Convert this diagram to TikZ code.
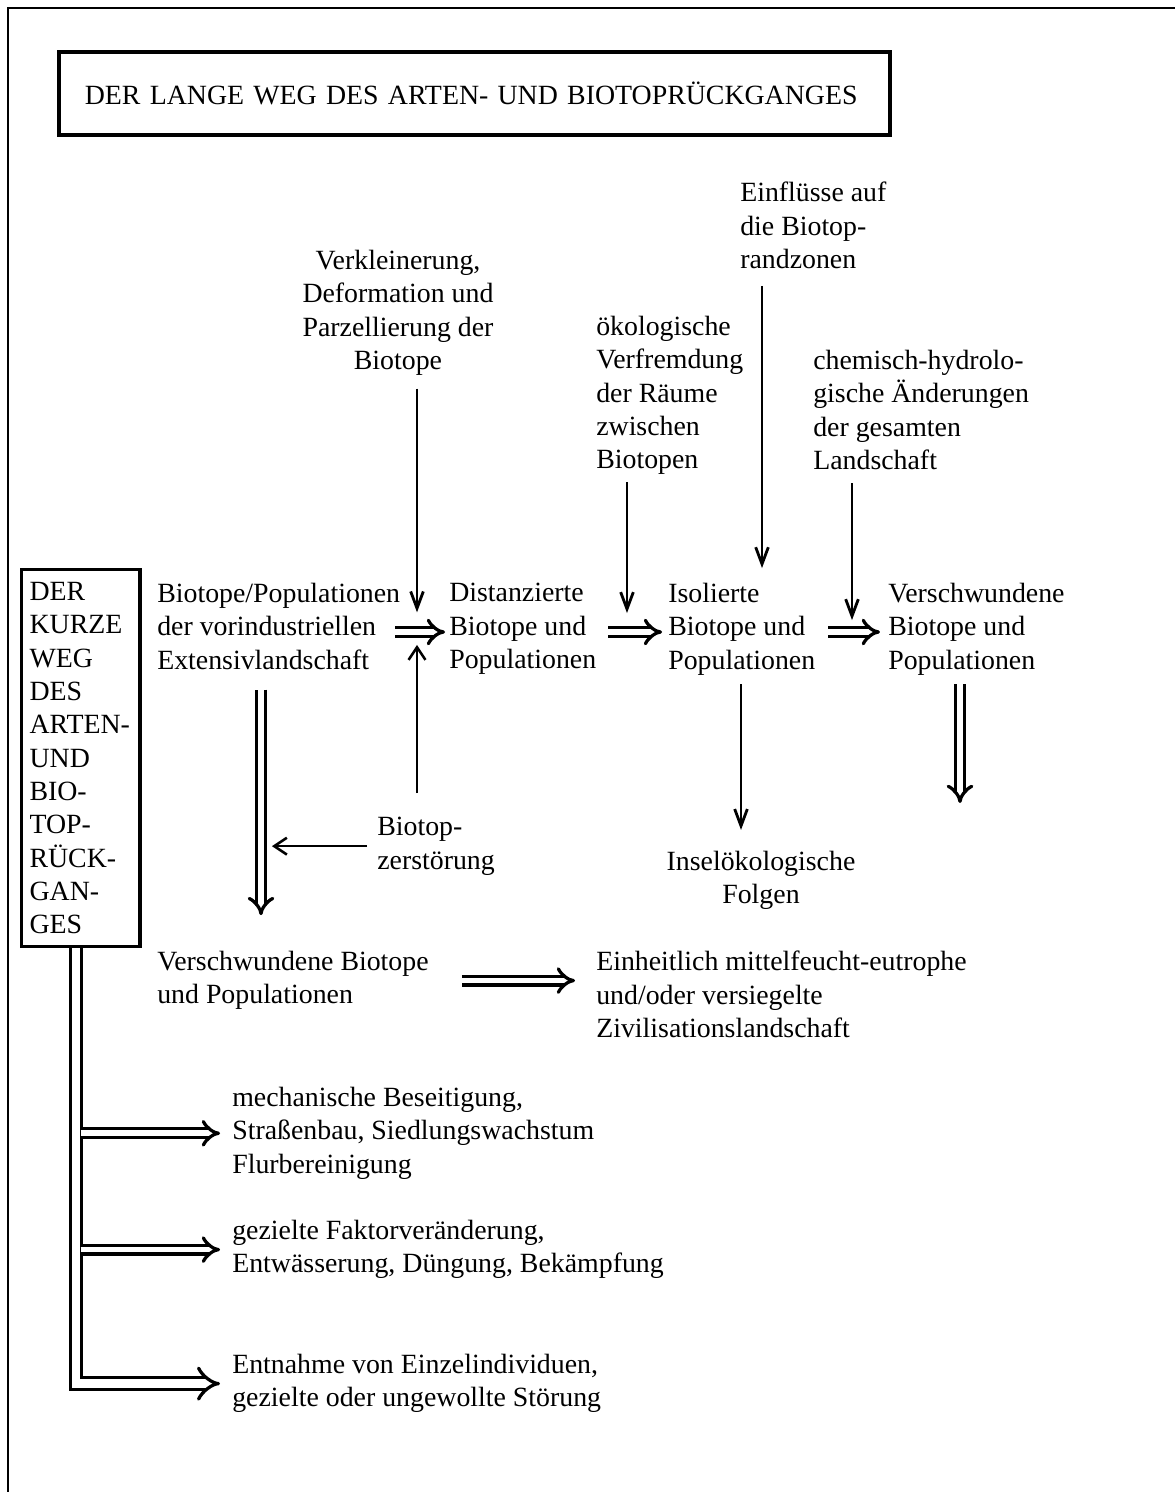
\documentclass[tikz,border=0pt]{standalone}
\usepackage{fontspec}
\setmainfont{Liberation Serif}
\usetikzlibrary{arrows.meta,positioning,calc}

\begin{document}
\begin{tikzpicture}[
  x=0.025cm, y=-0.025cm,
  every node/.style={font=\fontsize{19.8}{23.7}\selectfont, inner sep=0pt},
  txt/.style={anchor=north west, align=left},
  ctxt/.style={anchor=north, align=center},
  titlebox/.style={draw, line width=2.6pt, anchor=north west,
                   minimum height=2.075cm, text width=19.475cm,
                   inner xsep=0.65cm, align=left},
  kurzbox/.style={draw, line width=2.2pt, anchor=north west,
                  minimum height=9.425cm, text width=2.56cm,
                  inner xsep=0.2cm, align=left},
  pfeil/.style={line width=2pt, -{Straight Barb[length=12pt, width=9pt]}},
  opfeil/.style={line width=1.8pt, -{Straight Barb[length=9pt, width=12pt]}},
  dpfeil/.style={double, double distance=4pt, line width=2.3pt, -{Implies[scale=1.4]}},
  dstamm/.style={double, double distance=6pt, line width=2.3pt, -{Implies[scale=1.3]}},
]
\useasboundingbox (0,0) rectangle (1175,1492);

%% Frame
\draw[line width=1.6pt] (8,1492) -- (8,8) -- (1175,8);

%% Title
\node[titlebox] (titel) at (57,50)
  {DER LANGE WEG DES ARTEN- UND BIOTOPRÜCKGANGES};

%% Short way box
\node[kurzbox] (kurz) at (20,568)
  {DER\\KURZE\\WEG\\DES\\ARTEN-\\UND\\BIO-\\TOP-\\RÜCK-\\GAN-\\GES};

%% Influences (top)
\node[txt] (einfl) at (740,182) {Einflüsse auf\\die Biotop-\\randzonen};
\node[ctxt] (verkl) at (398,250)
  {Verkleinerung,\\Deformation und\\Parzellierung der\\Biotope};
\node[txt] (oekol) at (596,316)
  {ökologische\\Verfremdung\\der Räume\\zwischen\\Biotopen};
\node[txt] (chem) at (813,350)
  {chemisch-hydrolo-\\gische Änderungen\\der gesamten\\Landschaft};

%% Main row
\node[txt] (vorind) at (157,583)
  {Biotope/Populationen\\der vorindustriellen\\Extensivlandschaft};
\node[txt] (dist) at (449,583) {Distanzierte\\Biotope und\\Populationen};
\node[txt] (isol) at (668,583) {Isolierte\\Biotope und\\Populationen};
\node[txt] (verschw) at (888,583) {Verschwundene\\Biotope und\\Populationen};

%% Middle
\node[txt] (zerst) at (377,817) {Biotop-\\zerstörung};
\node[ctxt] (insel) at (761,851) {Inselökologische\\Folgen};
\node[txt] (verschwB) at (157,951) {Verschwundene Biotope\\und Populationen};
\node[txt] (zivil) at (596,951)
  {Einheitlich mittelfeucht-eutrophe\\und/oder versiegelte\\Zivilisationslandschaft};

%% Short way targets
\node[txt] (mech) at (232,1087)
  {mechanische Beseitigung,\\Straßenbau, Siedlungswachstum\\Flurbereinigung};
\node[txt] (fakt) at (232,1220)
  {gezielte Faktorveränderung,\\Entwässerung, Düngung, Bekämpfung};
\node[txt] (entn) at (232,1354)
  {Entnahme von Einzelindividuen,\\gezielte oder ungewollte Störung};

%% Lanes
\coordinate (ya) at (0,632);
\coordinate (xa) at (417,0);
\coordinate (xb) at (627,0);
\coordinate (xc) at (762,0);
\coordinate (xd) at (852,0);
\coordinate (xe) at (261,0);
\coordinate (xf) at (741,0);
\coordinate (ende) at (960,803);
\coordinate (stamm) at (76,0);
\coordinate (ast) at (80.5,0);

%% Long way: double arrows
\draw[dpfeil, shorten <=-3.5pt, shorten >=2.8pt] (vorind.east |- ya) -- (dist.west |- ya);
\draw[dpfeil, shorten <=8.5pt, shorten >=4.2pt] (dist.east |- ya) -- (isol.west |- ya);
\draw[dpfeil, shorten <=9.2pt, shorten >=5.7pt] (isol.east |- ya) -- (verschw.west |- ya);
\draw[dpfeil, shorten <=14pt, shorten >=25.5pt] (vorind.south -| xe) -- (verschwB.north -| xe);
\draw[dpfeil, shorten <=6.4pt] (verschw.south -| ende) -- (ende);
\draw[dpfeil, shorten <=23.4pt, shorten >=14.9pt] (verschwB.east) -- (verschwB.east -| zivil.west);

%% Influence arrows
\draw[pfeil, shorten <=9.2pt, shorten >=14pt] (verkl.south -| xa) -- (xa |- ya);
\draw[pfeil, shorten <=5pt, shorten >=13.5pt] (oekol.south -| xb) -- (xb |- ya);
\draw[pfeil, shorten <=12pt, shorten >=10.6pt] (einfl.south -| xc) -- (isol.north -| xc);
\draw[pfeil, shorten <=9.2pt, shorten >=8.5pt] (chem.south -| xd) -- (xd |- ya);
\draw[pfeil, shorten <=6.4pt, shorten >=15pt] (isol.south -| xf) -- (insel.north -| xf);

%% Biotope destruction
\draw[opfeil, shorten <=17pt, shorten >=9.2pt] (zerst.north -| xa) -- (xa |- ya);
\draw[opfeil, shorten <=7pt, shorten >=7.8pt] (zerst.west) -- (xe |- zerst.west);

%% Short way trunk and branches
\draw[dstamm, shorten >=8.5pt] (kurz.south -| stamm) |- (entn.west);
\draw[dpfeil, shorten >=8.5pt] (ast |- mech.west) -- (mech.west);
\draw[dpfeil, shorten >=8.5pt] (ast |- fakt.west) -- (fakt.west);

\end{tikzpicture}
\end{document}
